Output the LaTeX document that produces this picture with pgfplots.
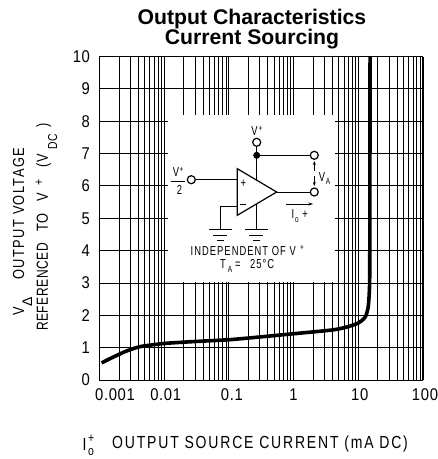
\documentclass[border=0pt]{standalone}
\usepackage{pgfplots}
\pgfplotsset{compat=1.18}
\usetikzlibrary{arrows.meta}
\usepackage{fontspec}
\setmainfont{Liberation Sans}
\newfontfamily\sten[FakeStretch=0.8,LetterSpace=10.4]{Liberation Sans}
\newfontfamily\stenl[FakeStretch=0.8,LetterSpace=9]{Liberation Sans}
\newfontfamily\stenr[FakeStretch=0.8,LetterSpace=7.5]{Liberation Sans}
\newfontfamily\stenq[FakeStretch=0.75,LetterSpace=3.5]{Liberation Sans}
\newfontfamily\stenb[FakeStretch=0.72,LetterSpace=8]{Liberation Sans}
\newfontfamily\tickf[FakeStretch=0.87,LetterSpace=4]{Liberation Sans}
\newfontfamily\tit{Liberation Sans}
\newcommand{\stenfs}{\fontsize{17.5}{18}\sten}
\newcommand{\stenlf}{\fontsize{16}{18}\stenl}
\newcommand{\stenrf}{\fontsize{16}{18}\stenr}
\newcommand{\stenqf}{\fontsize{16}{18}\stenq}
\newcommand{\stensm}{\fontsize{13}{14}\stenl}
\begin{document}
\begin{tikzpicture}[x=1pt,y=-1pt]
\path[use as bounding box] (0,0) rectangle (438,459);
\begin{axis}[
  at={(99.5pt,-380pt)},anchor=south west,
  scale only axis,width=323.5pt,height=323.5pt,
  xmode=log,xmin=0.001,xmax=100,ymin=0,ymax=10,
  log basis x=10,
  xtick={0.001,0.01,0.1,1,10,100},
  minor xtick={0.002,0.003,0.004,0.005,0.006,0.007,0.008,0.009,
   0.02,0.03,0.04,0.05,0.06,0.07,0.08,0.09,
   0.2,0.3,0.4,0.5,0.6,0.7,0.8,0.9,
   2,3,4,5,6,7,8,9,20,30,40,50,60,70,80,90},
  xticklabels={\hspace*{31pt}\raisebox{1pt}{0.001},\hspace*{3pt}0.01,\hspace*{6pt}0.1,1,\hspace*{3pt}10,\hspace*{4pt}100},
  ytick={0,1,2,3,4,5,6,7,8,9,10},
  yticklabel style={font=\fontsize{17}{17}\tickf,xshift=-6pt},
  xticklabel style={font=\fontsize{17}{17}\tickf,yshift=-5pt},
  /pgf/number format/assume math mode=true,
  major tick length=0pt,minor tick length=0pt,
  xmajorgrids,xminorgrids,ymajorgrids,
  major grid style={black,line width=0.9pt},
  minor grid style={black,line width=0.8pt},
  axis line style={black,line width=1pt},
  clip=true,
]
\addplot[black,line width=3.6pt,smooth,tension=0.35] coordinates {
 (0.00108,0.53) (0.00145,0.66) (0.0025,0.88) (0.0042,1.03) (0.01,1.13)
 (0.03,1.19) (0.1,1.245) (0.3,1.33) (1,1.43) (4.1,1.55) (7,1.65) (10,1.76) (12,1.88)
 (13.2,2.0) (14.2,2.25) (14.7,2.6) (15,3.1) (15.1,5) (15.2,10)};
\end{axis}
% white inset
\fill[white] (168,115) rectangle (335,282.4);
% title
\node[font=\fontsize{21.2}{22}\bfseries\tit,anchor=base] at (252,24) {Output Characteristics};
\node[font=\fontsize{21.2}{22}\bfseries\tit,anchor=base] at (252,44) {Current Sourcing};
% axis labels
\node[anchor=base west,inner sep=0,font=\stenlf,rotate=90] at (24,316) {V};
\node[anchor=base west,inner sep=0,font=\fontsize{14}{14}\tit,rotate=90] at (32,307) {Δ};
\node[anchor=base west,inner sep=0,font=\stenlf,rotate=90] at (24,280) {OUTPUT VOLTAGE};
\node[anchor=base west,inner sep=0,font=\stenqf,rotate=90] at (48,331) {REFERENCED};
\node[anchor=base west,inner sep=0,font=\stenrf,rotate=90] at (48,232) {TO};
\node[anchor=base west,inner sep=0,font=\stenrf,rotate=90] at (48,202) {V};
\node[anchor=base west,inner sep=0,font=\stensm,rotate=90] at (43,186) {+};
\node[anchor=base west,inner sep=0,font=\stenrf,rotate=90] at (48,168) {(};
\node[anchor=base west,inner sep=0,font=\stenrf,rotate=90] at (48,163) {V};
\node[anchor=base west,inner sep=0,font=\stensm,rotate=90] at (57,150) {DC};
\node[anchor=base west,inner sep=0,font=\stenrf,rotate=90] at (48,128) {)};
\node[anchor=base west,inner sep=0,font=\stenfs] at (82.5,450) {I};
\node[anchor=base west,inner sep=0,font=\stensm] at (88,442) {+};
\node[anchor=base west,inner sep=0,font=\stensm] at (88,455) {o};
\node[anchor=base west,inner sep=0,font=\stenfs] at (112,448) {OUTPUT SOURCE CURRENT (mA DC)};
% schematic
\begin{scope}[line width=1pt,black]
\draw (256.7,146.3) -- (256.7,180);
\draw (256.7,155.3) -- (310.3,155.3);
\draw (276.7,192) -- (310.3,192);
\draw (195.3,179.7) -- (237.3,179.7);
\draw[line width=1.2pt,fill=white,line join=miter] (237.3,168.7) -- (237.3,215.3) -- (276.7,192) -- cycle;
\draw (237.3,206) -- (220.3,206) -- (220.3,229.3);
\draw (256.7,203.5) -- (256.7,229.3);
\draw (209.3,229.3) -- (231.7,229.3) (213.3,235.3) -- (227.3,235.3) (217.3,240.7) -- (224,240.7);
\draw (245.3,229.3) -- (268,229.3) (249.3,235.3) -- (263.3,235.3) (253.3,240.7) -- (260,240.7);
\draw[line width=1.2pt] (256.7,142.3) circle[radius=4];
\fill (256.7,155.3) circle[radius=3.5];
\draw[line width=1.2pt] (314.3,155.3) circle[radius=4];
\draw[line width=1.2pt] (314.3,192) circle[radius=4];
\draw[line width=1.2pt] (191.3,179.7) circle[radius=4];
\draw[line width=0.7pt] (170.7,181) -- (185.3,181);
\draw[-{Stealth[length=4pt,width=3pt]}] (314.3,171) -- (314.3,161);
\draw[-{Stealth[length=4pt,width=3pt]}] (314.3,176) -- (314.3,186);
\draw[-{Stealth[length=5pt,width=3pt]}] (286,204) -- (313.3,204);
\end{scope}
\tikzset{lab/.style={inner sep=0,font=\fontsize{13}{14}\stenb}}
\tikzset{labs/.style={inner sep=0,font=\fontsize{9}{10}\stenb}}
\node[lab,anchor=base] at (254.5,135) {V};
\node[labs,anchor=base] at (260.5,131) {+};
\node[lab,anchor=base] at (176,176.5) {V};
\node[labs,anchor=base] at (181.5,172) {+};
\node[lab,anchor=base] at (179.5,194) {2};
\node[lab,anchor=center] at (243.3,183.3) {+};
\draw[line width=0.9pt] (240,204) -- (246,204);
\node[lab,anchor=base] at (322,181) {V};
\node[labs,anchor=base] at (328,184) {A};
\node[lab,anchor=base] at (293,218) {I};
\node[labs,anchor=base] at (297,222) {o};
\node[lab,anchor=base] at (305,218) {+};
\node[lab,anchor=base west] at (190.5,255) {INDEPENDENT OF V};
\node[labs,anchor=base] at (302,250) {+};
\node[lab,anchor=base] at (223,268) {T};
\node[labs,anchor=base] at (230,272) {A};
\node[lab,anchor=base west] at (235,268) {=};
\node[lab,anchor=base west] at (250,268) {25°C};
\end{tikzpicture}
\end{document}
